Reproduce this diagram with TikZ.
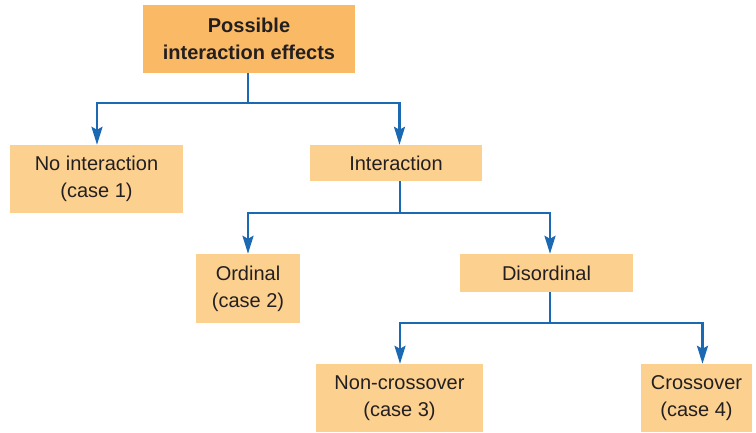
\documentclass[tikz,border=0pt]{standalone}
\usepackage{fontspec}
\setmainfont{Liberation Sans}
\usetikzlibrary{arrows.meta}

\definecolor{boxdark}{HTML}{FAB964}
\definecolor{boxlight}{HTML}{FCD08F}
\definecolor{linkblue}{HTML}{1B69B3}
\definecolor{txtgray}{HTML}{231F20}

\begin{document}
\begin{tikzpicture}[x=1pt, y=-1pt,
	box/.style={fill=boxlight, text=txtgray, align=center, inner sep=0pt,
		font=\fontsize{20}{27}\selectfont},
	link/.style={draw=linkblue, line width=2.5pt},
	arr/.style={link, -{Stealth[length=18pt, width=11pt, inset=3pt]}}]
		\useasboundingbox (0,0) rectangle (756,433);

		\node[box, fill=boxdark, font=\fontsize{20}{27}\selectfont\bfseries,
			minimum width=212pt, minimum height=68pt] (top) at (249,39)
			{Possible\\interaction effects};

		\node[box, minimum width=173pt, minimum height=68pt] (noint) at (96.5,179)
			{No interaction\\(case 1)};
		\node[box, minimum width=172pt, minimum height=36pt] (inter) at (396,163)
			{Interaction};

		\node[box, minimum width=104pt, minimum height=69pt] (ordinal) at (248,288.5)
			{Ordinal\\(case 2)};
		\node[box, minimum width=173pt, minimum height=38pt] (disord) at (546.5,273)
			{Disordinal};

		\node[box, minimum width=167pt, minimum height=68pt] (noncross) at (399.5,398)
			{Non-crossover\\(case 3)};
		\node[box, minimum width=111pt, minimum height=68pt] (cross) at (696.5,398)
			{Crossover\\(case 4)};

		% first split
		\coordinate (j1) at (248,103);
		\draw[link] (top.south -| j1) -- (j1);
		\draw[arr] (j1) -| ([xshift=0.5pt]noint.north);
		\draw[arr] (j1) -| ([xshift=3.5pt]inter.north);

		% second split
		\coordinate (j2) at (400,213);
		\draw[link] (inter.south -| j2) -- (j2);
		\draw[arr] (j2) -| (ordinal.north);
		\draw[arr] (j2) -| ([xshift=3.5pt]disord.north);

		% third split
		\coordinate (j3) at (550,323);
		\draw[link] (disord.south -| j3) -- (j3);
		\draw[arr] (j3) -| ([xshift=0.5pt]noncross.north);
		\draw[arr] (j3) -| ([xshift=6pt]cross.north);

	\end{tikzpicture}
\end{document}
